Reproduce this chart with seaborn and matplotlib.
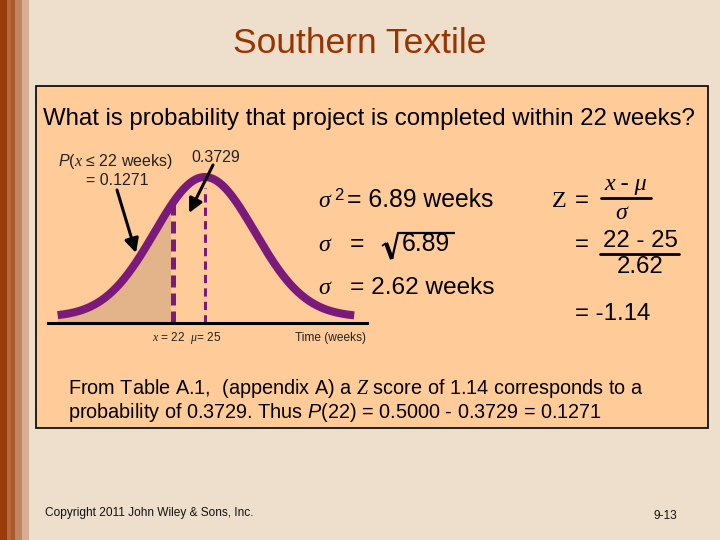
import numpy as np
import matplotlib
matplotlib.use("Agg")
import matplotlib.pyplot as plt
from matplotlib.patches import Rectangle
import seaborn as sns

# slide texts
title = "Southern Textile"
question = "What is probability that project is completed within 22 weeks?"
footer = "Copyright 2011 John Wiley & Sons, Inc."
page = "9-13"

# numbers of the problem
mu = 25
x_val = 22
var_weeks = 6.89
sd_weeks = 2.62
z_score = -1.14
p_between = 0.3729
p_below = 0.1271

# the bell on the slide is schematic (drawn wider than sd_weeks)
bell_sd = 4.7
bell_peak = 140
bell_lift = 6
bell_range = (11.2, 39.0)
axis_range = (10.3, 40.2)

purple = "#7A1A7A"
brown = "#993300"

sns.set_style("white")
plt.rcParams["font.family"] = ["Liberation Sans", "DejaVu Sans"]
plt.rcParams["text.color"] = "black"
plt.rcParams["mathtext.fontset"] = "custom"
plt.rcParams["mathtext.rm"] = "Liberation Sans"
plt.rcParams["mathtext.it"] = "Liberation Serif:italic"
plt.rcParams["mathtext.sf"] = "Liberation Sans:italic"

fig = plt.figure(figsize=(7.2, 5.4), dpi=100)
fig.patch.set_facecolor("#EEDFCC")

# background layer (pixel coords, y down)
bg = fig.add_axes([0, 0, 1, 1])
bg.set_xlim(0, 720)
bg.set_ylim(540, 0)
bg.axis("off")
stripes = [(0, 7, "#9A3B0B"), (7, 11, "#B46A3A"), (11, 15, "#A85A2E"),
           (15, 22, "#C08560"), (22, 29, "#D6AE93")]
for x0, x1, c in stripes:
    bg.add_patch(Rectangle((x0, 0), x1 - x0, 540, color=c, lw=0))
bg.add_patch(Rectangle((36, 86), 672, 342, fc="#FFCC99", ec="black", lw=1.2))

# the normal curve
def bell(x):
    return bell_lift + bell_peak * np.exp(-0.5 * ((x - mu) / bell_sd) ** 2)

curve_x = np.linspace(bell_range[0], bell_range[1], 400)
curve_y = bell(curve_x)

cax = fig.add_axes([48 / 720, (540 - 323) / 540, (367 - 48) / 720, (323 - 165) / 540])
cax.patch.set_alpha(0)
left = curve_x <= x_val - 0.2
cax.fill_between(curve_x[left], 0, curve_y[left], color="#E3B389", lw=0)
sns.lineplot(x=curve_x, y=curve_y, ax=cax, color=purple, linewidth=5.8,
             clip_on=False, solid_capstyle="butt")
cax.plot([x_val, x_val], [0, bell(x_val) - 2], color=purple, lw=3.6,
         dashes=(2.4, 1.2), clip_on=False)
cax.plot([mu, mu], [0, bell(mu) - 11], color=purple, lw=2.2,
         dashes=(2.7, 1.7), clip_on=False)
cax.set_xlim(*axis_range)
cax.set_ylim(0, 158)
cax.set_xticks([])
cax.set_yticks([])
for s in ["top", "right", "left"]:
    cax.spines[s].set_visible(False)
cax.spines["bottom"].set_linewidth(2.2)
cax.spines["bottom"].set_color("black")

# foreground layer
fg = fig.add_axes([0, 0, 1, 1])
fg.set_xlim(0, 720)
fg.set_ylim(540, 0)
fg.axis("off")
fg.patch.set_alpha(0)

fg.text(360, 53, title, fontsize=25.5, color=brown, ha="center", va="baseline")
fg.text(43, 125, question, fontsize=17.3, va="baseline")

fg.text(58, 166, r"$\mathsf{P}$($x$ ≤ 22 weeks)", fontsize=11.5, color="#222222", va="baseline")
fg.text(86, 185, f"= {p_below:.4f}", fontsize=11.5, color="#222222", va="baseline")
fg.text(191, 162, f"{p_between:.4f}", fontsize=11.5, color="#222222", va="baseline")

arrow = dict(arrowstyle="-|>,head_length=0.6,head_width=0.3", lw=2.2, color="black",
             mutation_scale=14, shrinkA=0, shrinkB=0)
fg.annotate("", xy=(136, 253), xytext=(117, 190), arrowprops=arrow)
fg.annotate("", xy=(189, 213), xytext=(213, 165), arrowprops=arrow)

fg.text(152, 341, r"$x$ = 22  $\mu$= 25", fontsize=8.6, color="#222222", va="baseline")
fg.text(295, 341, "Time (weeks)", fontsize=8.6, color="#222222", va="baseline")

# sigma rows
serif_it = dict(family="Liberation Serif", style="italic")
for yb in [207, 251, 294]:
    fg.text(318, yb, "σ", fontsize=17.3, va="baseline", **serif_it)
fg.text(334, 200, "2", fontsize=12, va="baseline")
fg.text(347, 207, f"= {var_weeks} weeks", fontsize=17.8, va="baseline")
fg.text(350, 251, "=", fontsize=17.8, va="baseline")
fg.plot([382, 386], [246, 243], color="black", lw=1.3, solid_capstyle="butt")
fg.plot([386, 392], [243, 259], color="black", lw=3.0, solid_capstyle="butt")
fg.plot([392, 398, 455], [259, 233, 233], color="black", lw=1.6, solid_capstyle="butt")
fg.text(402, 251, f"{var_weeks}", fontsize=17.8, va="baseline")
fg.text(350, 294, f"= {sd_weeks} weeks", fontsize=17.6, va="baseline")

# z formula
fg.text(552, 207, "Z", fontsize=17.3, family="Liberation Serif", va="baseline")
fg.text(575, 207, "=", fontsize=17.3, va="baseline")
fg.text(626, 190, "x - μ", fontsize=17.3, ha="center", va="baseline", **serif_it)
fg.plot([601, 651], [198, 198], color="black", lw=2.0)
fg.text(621, 219, "σ", fontsize=17.3, ha="center", va="baseline", **serif_it)
fg.text(575, 251, "=", fontsize=17.3, va="baseline")
fg.text(640, 247, f"{x_val} - {mu}", fontsize=17.3, ha="center", va="baseline")
fg.plot([600, 679], [254, 254], color="black", lw=2.0)
fg.text(640, 273, f"{sd_weeks}", fontsize=17.3, ha="center", va="baseline")
fg.text(575, 320, f"= {z_score}", fontsize=17.3, va="baseline")

fg.text(68, 394, r"From Table A.1,  (appendix A) a $Z$ score of 1.14 corresponds to a",
        fontsize=14.3, va="baseline")
fg.text(68, 418, r"probability of 0.3729. Thus $\mathsf{P}$(22) = 0.5000 - 0.3729 = 0.1271",
        fontsize=14.3, va="baseline")

fg.text(45, 516, footer, fontsize=8.6, color="#111111", va="baseline")
fg.text(653, 519, page, fontsize=8.6, color="#111111", va="baseline")

fig.savefig("out.png", dpi=100, facecolor=fig.get_facecolor())
